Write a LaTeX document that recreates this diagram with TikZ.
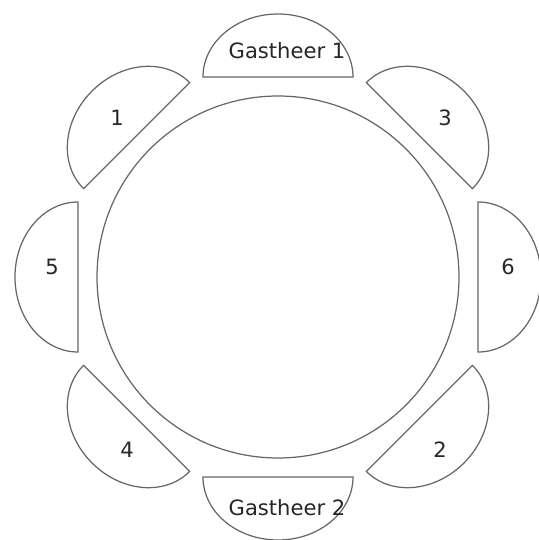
\documentclass[tikz,border=0pt]{standalone}
\usepackage{fontspec}
\setmainfont{DejaVu Sans}

\begin{document}
\begin{tikzpicture}[x=0.02cm, y=0.02cm,  tafel/.style={draw=black!60, line width=0.7pt},  stoel/.style={draw=black!60, line width=0.7pt},  lab/.style={font=\fontsize{12}{14}\selectfont, text=black!85, inner sep=0pt}]
\useasboundingbox (-278,-263) rectangle (260,277);
%%%%%%%%%%%%%%%%%%%%%%%%%%%%%%%%%%%%%%%%%%%%%%%%%%
% table
%%%%%%%%%%%%%%%%%%%%%%%%%%%%%%%%%%%%%%%%%%%%%%%%%%
\draw[tafel] (0,0) circle[radius=181];
%%%%%%%%%%%%%%%%%%%%%%%%%%%%%%%%%%%%%%%%%%%%%%%%%%
% chairs
%%%%%%%%%%%%%%%%%%%%%%%%%%%%%%%%%%%%%%%%%%%%%%%%%%
\begin{scope}[rotate=0]
  \draw[stoel] (-75,200) arc[start angle=180, end angle=0, x radius=75, y radius=63] -- cycle;
\end{scope}
\begin{scope}[rotate=-45]
  \draw[stoel] (-75,200) arc[start angle=180, end angle=0, x radius=75, y radius=63] -- cycle;
\end{scope}
\begin{scope}[rotate=-90]
  \draw[stoel] (-75,200) arc[start angle=180, end angle=0, x radius=75, y radius=63] -- cycle;
\end{scope}
\begin{scope}[rotate=-135]
  \draw[stoel] (-75,200) arc[start angle=180, end angle=0, x radius=75, y radius=63] -- cycle;
\end{scope}
\begin{scope}[rotate=180]
  \draw[stoel] (-75,200) arc[start angle=180, end angle=0, x radius=75, y radius=63] -- cycle;
\end{scope}
\begin{scope}[rotate=135]
  \draw[stoel] (-75,200) arc[start angle=180, end angle=0, x radius=75, y radius=63] -- cycle;
\end{scope}
\begin{scope}[rotate=90]
  \draw[stoel] (-75,200) arc[start angle=180, end angle=0, x radius=75, y radius=63] -- cycle;
\end{scope}
\begin{scope}[rotate=45]
  \draw[stoel] (-75,200) arc[start angle=180, end angle=0, x radius=75, y radius=63] -- cycle;
\end{scope}
%%%%%%%%%%%%%%%%%%%%%%%%%%%%%%%%%%%%%%%%%%%%%%%%%%
% labels
%%%%%%%%%%%%%%%%%%%%%%%%%%%%%%%%%%%%%%%%%%%%%%%%%%
\node[lab] (g1) at (9,226) {Gastheer 1};
\node[lab] (g2) at (9,-231) {Gastheer 2};
\node[lab] (s1) at (-161,159) {1};
\node[lab] (s3) at (167,159) {3};
\node[lab] (s5) at (-226,10) {5};
\node[lab] (s6) at (230,10) {6};
\node[lab] (s4) at (-151,-173) {4};
\node[lab] (s2) at (162,-173) {2};
\end{tikzpicture}
\end{document}
